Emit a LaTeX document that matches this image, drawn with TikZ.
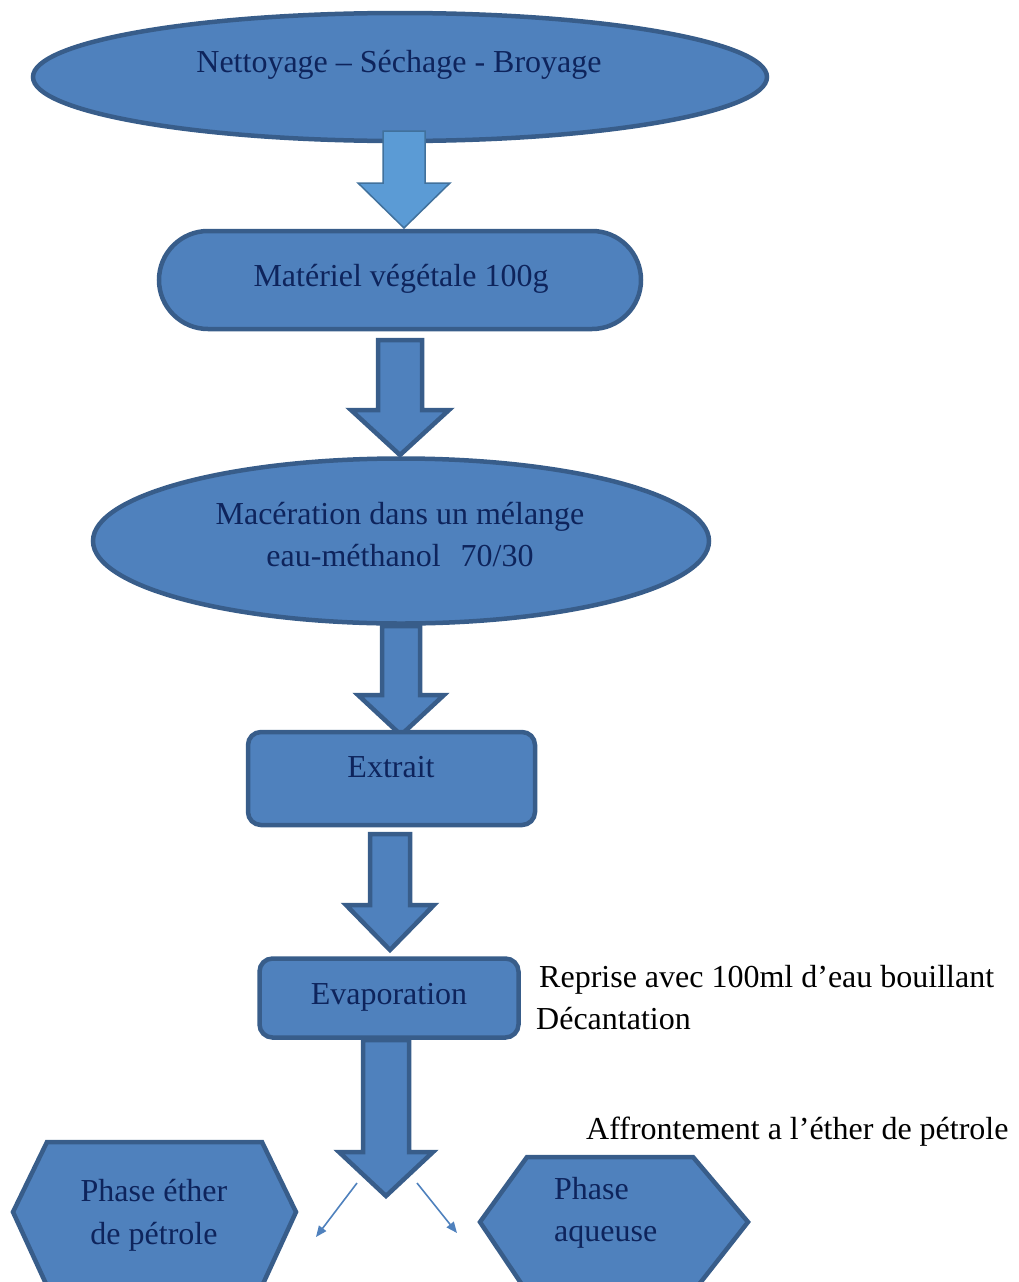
\documentclass[tikz,border=0pt]{standalone}
\usepackage{fontspec}
\setmainfont{Liberation Serif}
\usetikzlibrary{shapes.geometric,arrows.meta}
\definecolor{boxfill}{HTML}{4F81BD}
\definecolor{boxline}{HTML}{385D8A}
\definecolor{lightfill}{HTML}{5B9BD5}
\definecolor{lightline}{HTML}{41719C}
\definecolor{navy}{RGB}{14,36,92}
\newcommand{\blkarrow}[7][boxshape]{%
  % #2 x center, #3 y top, #4 y head, #5 y tip, #6 half shaft, #7 half head
  \draw[#1] (#2-#6,#3) -- (#2+#6,#3) -- (#2+#6,#4) -- (#2+#7,#4) -- (#2,#5) -- (#2-#7,#4) -- (#2-#6,#4) -- cycle;}
\begin{document}
\begin{tikzpicture}[x=1pt,y=-1pt,
  boxshape/.style={fill=boxfill,draw=boxline,line width=4.5pt,line join=miter},
  lightshape/.style={fill=lightfill,draw=lightline,line width=1.5pt},
  txt/.style={text=navy,font=\fontsize{32}{36}\selectfont,inner sep=0pt,text height=0.68em,text depth=0.2em,yshift=-7.5pt},
  note/.style={text=black,font=\fontsize{32}{36}\selectfont,inner sep=0pt,anchor=west,text height=0.68em,text depth=0.2em,yshift=-7.5pt},
  thin/.style={draw=boxfill,line width=1.6pt,-{Triangle[length=11pt,width=9pt]}}]
\useasboundingbox (0,0) rectangle (1018,1282);
\clip (0,0) rectangle (1018,1282);
% ellipse 1
\node[boxshape,ellipse,minimum width=734pt,minimum height=128pt,inner sep=0pt] (n1) at (400,77) {};
\node[txt] (t1) at (399,63) {Nettoyage – Séchage - Broyage};
% arrow 1
\blkarrow[lightshape]{404}{131}{183}{228}{21}{46}
% stadium
\node[boxshape,rectangle,rounded corners=49pt,minimum width=482pt,minimum height=98pt,inner sep=0pt] (n2) at (400,280) {};
\node[txt] (t2) at (401,277) {Matériel végétale 100g};
% arrow 2
\blkarrow{400}{340}{410}{455}{22}{49}
% ellipse 3
\node[boxshape,ellipse,minimum width=616pt,minimum height=165pt,inner sep=0pt] (n3) at (401,541) {};
\node[txt] (t3a) at (400,515) {Macération dans un mélange};
\node[txt] (t3b) at (400,557) {eau-méthanol\hspace{12pt} 70/30};
% arrow 3
\blkarrow{401}{626}{695}{735}{19}{43}
% Extrait
\node[boxshape,rectangle,rounded corners=13pt,minimum width=287pt,minimum height=93pt,inner sep=0pt] (n4) at (391.5,778.5) {};
\node[txt] (t4) at (391,768) {Extrait};
% arrow 4
\blkarrow{390}{834}{905}{950}{20}{44}
% Evaporation
\node[boxshape,rectangle,rounded corners=13pt,minimum width=259pt,minimum height=79pt,inner sep=0pt] (n5) at (389,998) {};
\node[txt] (t5) at (389,995) {Evaporation};
% arrow 5
\blkarrow{386}{1040}{1152}{1196}{23}{47}
% notes
\node[note] (r1) at (539,978) {Reprise avec 100ml d’eau bouillant};
\node[note] (r2) at (536,1020) {Décantation};
\node[note] (r3) at (586,1130) {Affrontement a l’éther de pétrole};
% hexagons
\draw[boxshape] (47,1142) -- (262,1142) -- (296,1212) -- (262,1286) -- (47,1286) -- (13,1212) -- cycle;
\node[txt] (t6a) at (154,1192) {Phase éther};
\node[txt] (t6b) at (154,1235) {de pétrole};
\draw[boxshape] (527,1157) -- (693,1157) -- (748,1222) -- (693,1292) -- (527,1292) -- (480,1222) -- cycle;
\node[txt,anchor=west] (t7a) at (554,1190) {Phase};
\node[txt,anchor=west] (t7b) at (554,1232) {aqueuse};
% thin arrows
\coordinate (s1) at (357,1183);
\coordinate (e1) at (316,1237);
\coordinate (s2) at (417,1183);
\coordinate (e2) at (457,1233);
\draw[thin] (s1) -- (e1);
\draw[thin] (s2) -- (e2);
\end{tikzpicture}
\end{document}
